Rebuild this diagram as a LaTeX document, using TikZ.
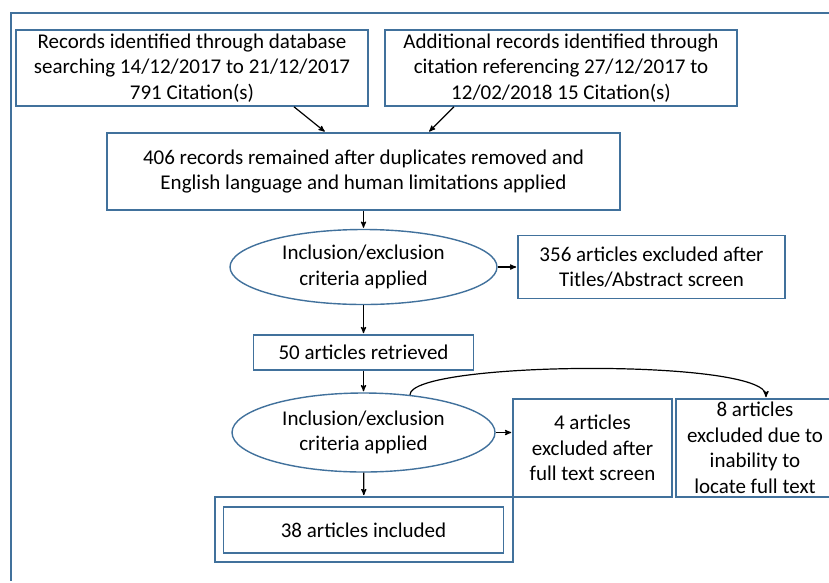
\documentclass[tikz,border=0pt]{standalone}
\usepackage{fontspec}
\setmainfont{Carlito}
\usepackage{tikz}
\usetikzlibrary{arrows}
\usetikzlibrary{shapes.geometric}
\definecolor{boxblue}{RGB}{65,113,156}
\tikzstyle{block}=[
   rectangle,
   draw=boxblue,
   line width=1.6pt,
   fill=white,
   align=center,
   inner sep=0pt,
   font=\fontsize{21}{25.5}\selectfont
]
\tikzstyle{crit}=[
   ellipse,
   draw=boxblue,
   line width=1.4pt,
   fill=white,
   align=center,
   inner sep=0pt,
   minimum width=267pt,
   minimum height=75pt,
   font=\fontsize{21}{25.5}\selectfont
]
\begin{document}
\begin{tikzpicture}[x=1pt,y=-1pt,->,>=stealth',shorten >=1pt,line width=1.2pt]

  \useasboundingbox (0,0) rectangle (829,582);
  \draw[-,boxblue,line width=1.2pt] (829,13) -- (11,13) -- (11,582);

  \node[block,minimum width=352pt,minimum height=76pt] (db)  at (192,68)  {Records identified through database\\searching 14/12/2017 to 21/12/2017\\791 Citation(s)};
  \node[block,minimum width=352pt,minimum height=76pt] (cit) at (561,68)  {Additional records identified through\\citation referencing 27/12/2017 to\\12/02/2018 15 Citation(s)};
  \node[block,minimum width=513pt,minimum height=77pt] (dup) at (363.5,171.5) {406 records remained after duplicates removed and\\English language and human limitations applied};

  \node[crit]   (crit1) at (363.5,267) {Inclusion/exclusion\\criteria applied};
  \node[block,minimum width=267pt,minimum height=63pt] (ex356) at (651.5,267) {356 articles excluded after\\Titles/Abstract screen};
  \node[block,minimum width=220pt,minimum height=35pt] (ret) at (363.5,352.5) {50 articles retrieved};

  \node[crit,minimum width=263pt,minimum height=79pt] (crit2) at (363.5,432.5) {Inclusion/exclusion\\criteria applied};
  \node[block,minimum width=159pt,minimum height=98pt] (ex4) at (592.5,448) {4 articles\\excluded after\\full text screen};
  \node[block,minimum width=158pt,minimum height=98pt] (ex8) at (755,448) {8 articles\\excluded due to\\inability to\\locate full text};

  \node[block,minimum width=298pt,minimum height=65pt] (inclout) at (364,529.5) {};
  \node[block,minimum width=280pt,minimum height=46pt] (incl) at (363.5,530) {38 articles included};

  \path ([xshift=102pt]db.south) edge ([xshift=-38pt]dup.north)
        ([xshift=-107pt]cit.south) edge ([xshift=65pt]dup.north);

  \path (dup) edge (crit1)
        (crit1) edge (ex356)
        (crit1) edge (ret)
        (ret) edge (crit2);

  \path (crit2.east) edge (crit2.east -| ex4.west)
        (crit2) edge (inclout);

  \draw (crit2.39) .. controls +(0,-34) and +(0,-40) .. ([xshift=11pt]ex8.north);

\end{tikzpicture}
\end{document}
